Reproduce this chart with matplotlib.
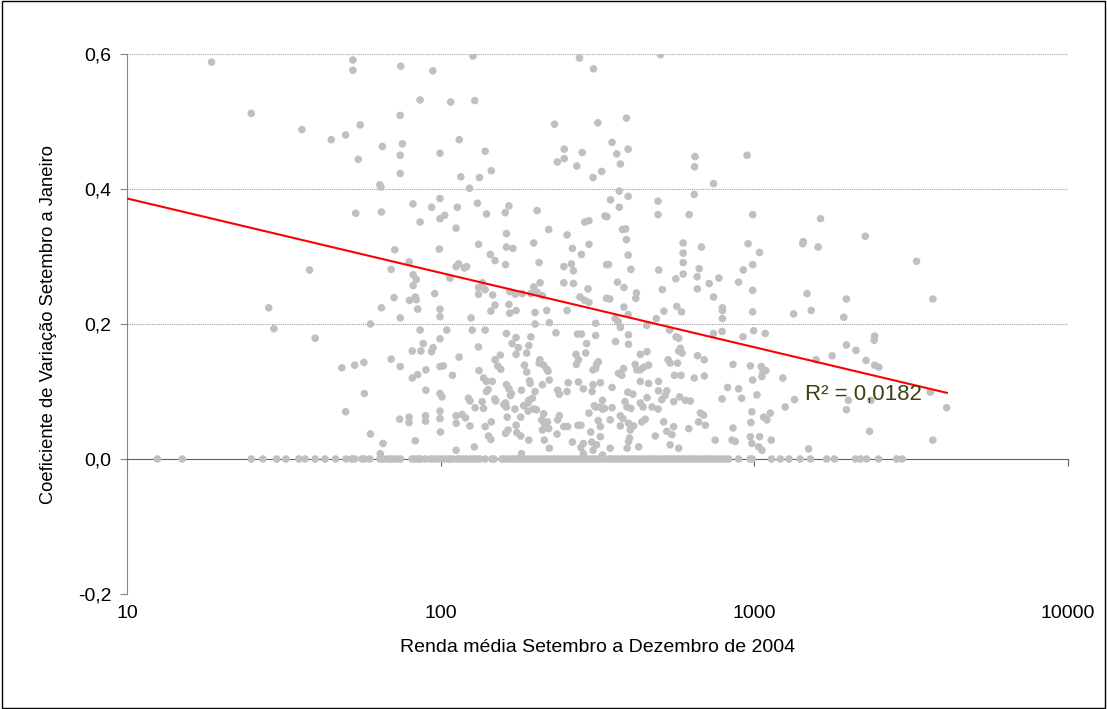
import numpy as np
import matplotlib
matplotlib.use("Agg")
import matplotlib.pyplot as plt
from matplotlib.ticker import FixedLocator, NullLocator
from matplotlib.patches import Rectangle

plt.rcParams['font.family'] = ['Liberation Sans', 'DejaVu Sans']

# renda media (x) e coeficiente de variacao (y), pontos com CV > 0
renda = [
    18.6, 52.5, 52.5, 24.9, 36.1, 44.8, 49.8, 55.4, 54.6,
    74.6, 94.4, 126.8, 277, 307, 86, 107.6, 128.5, 74.3, 230.7, 317, 65.2, 75.5, 74.3, 99.5,
    114.6, 138.6, 247.7, 282.6, 247.7, 235.5, 271.7, 74.3, 116, 133, 145, 306, 326, 64,
    502, 391, 352, 364, 396, 374, 647, 645, 948, 741,
    53.6, 38.2, 28.3, 29.4,
    64.5, 123.6, 64.7, 81.6, 93.6, 99.5, 99.5, 103, 86, 113, 112, 131, 140, 160.6, 165, 203,
    221, 253, 288, 297, 334, 162, 162, 170, 132, 99, 71.4, 144, 149, 161, 198, 206, 263, 297,
    281, 247, 261, 265, 338, 79.3, 69.5, 81.7, 83.6, 81.7, 112, 114, 119, 121, 107, 136, 132,
    138.6, 132, 146.5, 149, 144.6, 165, 174, 166, 173, 182, 198, 207.5, 194, 203, 211, 200,
    218, 247, 265, 253, 295, 278, 288, 297, 338, 95.7, 83, 83.6, 79.5, 71, 84.5, 99.5, 99.5,
    64.7, 74.3, 59.7, 125, 166, 200, 222, 312,
    371, 348, 396, 371, 339, 493, 493, 643, 620, 988, 1626, 380, 389, 391, 396, 404, 343,
    593, 593, 593, 593, 678, 496, 562, 667, 657, 658, 718, 771, 741, 955, 1039, 988, 922, 891,
    988, 988, 791, 791, 791, 1432, 1427, 1597, 1472, 1519, 1334, 1928, 1966, 366, 384, 421,
    419, 346, 509, 384, 396, 360, 368, 374, 515, 487, 566, 586, 454,
    2259, 3291, 3708,
    39.8, 48.4, 53.2, 56.9, 57.1, 49.8,
    86, 104.6, 126, 138.6, 162, 174, 194, 233, 273, 281, 312, 88, 99.5, 81.2, 86.5, 94.6, 93.5,
    132, 169, 177, 191, 188, 174, 292, 290, 270, 275, 271, 318, 314, 312, 306, 69.5, 74.3,
    81.2, 84.5, 89.7, 99.5, 102, 109, 114.5, 89.7, 99.5, 101,
    149, 155, 152, 155.5, 137, 140, 146, 141.7, 140, 132.5,
    185, 188, 193, 192, 207, 206, 213, 218, 220, 222, 211, 200, 196, 190, 181, 162, 165, 168,
    167, 161, 160.6, 236, 239, 253, 255, 275, 285, 306, 323, 304, 309, 312, 328, 333, 328,
    122.6, 124, 128.8, 135.6, 137, 148.7, 149.8, 159, 162, 172.5, 184, 198, 191, 202, 190,
    213, 210, 214, 221, 211, 219, 239, 236, 254, 247, 274, 280, 297, 318, 323,
    99.5, 99.5, 89.5, 89.5, 79.3, 79.3, 74, 99.8, 112, 117, 120, 112, 124, 138.6, 145, 163,
    174, 180, 164, 161, 175, 180, 142, 144.6, 191, 214, 235, 263, 285, 303, 301, 323, 323,
    59.7, 65.5, 64.2, 83, 112, 128, 181, 222, 280, 285, 306, 314, 328,
    361, 397, 397, 433, 455, 417, 422, 433, 444, 460, 383, 378, 369, 433, 460, 495, 352, 395,
    410, 495, 526, 520, 507, 455, 433, 442, 387, 393, 404, 352, 347, 374, 381, 397, 412, 374,
    438, 449, 472, 493, 402, 400, 397, 428, 347, 393, 483, 514, 553, 526, 546, 539, 574, 618,
    664, 698, 689, 673, 750, 603, 625, 578, 553, 556, 584, 643, 693, 659, 692, 531, 539, 574,
    581, 588, 569, 574, 563, 537, 741, 789, 855, 822, 789, 891, 911, 971, 1052, 1065, 1088,
    1057, 988, 1019, 982, 975, 1071, 1124, 1097, 1132, 1039, 971, 982, 1032, 1057, 849, 855,
    869, 1233, 1254, 1343, 920, 995, 1083, 1489, 1966, 1770, 1574, 1966,
    2109, 2411, 2418, 2270, 2418, 2495, 3640, 4104, 2330, 3708, 1995, 2355,
]
cv = [
    .588, .591, .576, .512, .488, .473, .48, .495, .444,
    .582, .575, .597, .594, .578, .532, .529, .531, .509, .496, .498, .463, .467, .45, .453,
    .473, .456, .459, .454, .445, .44, .434, .423, .418, .417, .427, .417, .426, .406,
    .599, .505, .469, .452, .459, .437, .448, .433, .45, .408,
    .364, .28, .224, .193,
    .403, .401, .366, .378, .373, .386, .356, .361, .351, .373, .342, .379, .363, .365, .375, .368,
    .34, .332, .351, .353, .36, .334, .314, .312, .318, .311, .31, .303, .294, .288, .32, .291, .312, .318,
    .303, .285, .289, .279, .288, .292, .281, .273, .266, .257, .285, .289, .283, .285, .268, .261, .254,
    .251, .244, .243, .228, .219, .229, .22, .248, .244, .245, .255, .261, .245, .247, .242, .217,
    .22, .261, .26, .22, .252, .24, .235, .232, .238, .245, .24, .236, .235, .239, .222, .222, .211,
    .224, .209, .2, .209, .216, .2, .202, .201,
    .397, .384, .389, .373, .359, .382, .362, .392, .362, .362, .356, .34, .341, .325, .302, .281, .288,
    .32, .305, .291, .274, .314, .28, .267, .282, .27, .252, .26, .268, .24, .319, .306, .288, .28, .262,
    .25, .218, .224, .22, .208, .322, .319, .314, .245, .22, .215, .21, .237, .262, .254, .246,
    .238, .237, .251, .225, .214, .208, .203, .195, .219, .208, .226, .218, .198,
    .33, .293, .237,
    .179, .135, .139, .143, .097, .07,
    .191, .191, .191, .191, .186, .18, .181, .187, .185, .185, .183, .171, .178, .16, .16, .165, .159,
    .166, .171, .165, .168, .157, .155, .171, .157, .155, .147, .14, .144, .14, .134, .132, .148, .137,
    .12, .125, .132, .137, .138, .124, .151, .102, .097, .092,
    .147, .154, .138, .133, .12, .115, .115, .103, .1, .131,
    .139, .129, .112, .116, .147, .142, .139, .133, .13, .117, .11, .1, .09, .083, .102, .11, .104, .097,
    .094, .083, .079, .102, .096, .1, .113, .114, .104, .11, .113, .1, .079, .077, .087, .075, .074,
    .09, .086, .076, .085, .075, .089, .086, .081, .077, .074, .079, .074, .087, .073, .071,
    .067, .058, .053, .045, .043, .055, .064, .058, .048, .048, .05, .05, .068, .057, .077,
    .071, .06, .064, .056, .062, .054, .059, .04, .053, .066, .061, .064, .049, .048, .055, .062,
    .05, .062, .043, .038, .039, .034, .034, .029, .028, .028, .037, .025, .023, .025, .04, .048, .033,
    .037, .023, .008, .027, .013, .018, .008, .016, .017, .008, .013, .021, .006,
    .174, .184, .17, .155, .159, .14, .132, .132, .136, .139, .134, .124, .127, .115, .112, .115, .106, .099,
    .096, .101, .101, .094, .088, .091, .083, .077, .085, .077, .075, .076, .058, .064, .06, .053, .049, .049,
    .055, .059, .077, .074, .043, .031, .026, .018, .016, .016, .034, .055, .048, .041, .036, .021, .016, .045,
    .055, .05, .065, .068, .028, .087, .086, .092, .085, .124, .124, .12, .123, .153, .147, .147, .142, .16,
    .164, .157, .142, .179, .181, .191, .186, .189, .14, .106, .089, .104, .09, .138, .137, .129, .131,
    .122, .117, .095, .07, .054, .062, .068, .058, .028, .033, .033, .023, .018, .013, .028, .046,
    .026, .12, .077, .088, .181, .19, .186, .015, .169, .153, .147, .073,
    .161, .176, .182, .146, .139, .136, .099, .076, .041, .028, .087, .087,
]

# municipios com CV = 0 (renda media)
renda_cv_zero = [
    12.5, 15, 24.9, 27.1, 30, 32.1, 35.3, 37, 39.8, 42.8, 46.2, 49.9, 52.1, 53.2, 56.1, 57.1,
    59.5, 64, 65.5, 67.5, 69, 70.5, 72.5, 74.5, 81, 83, 85, 86, 89, 92.5, 94.5, 97.5, 100, 102,
    105, 107, 109.5, 113, 115, 118, 121, 124, 127, 130, 133, 138.5, 145.5, 148, 157, 160, 164,
    169, 172, 176, 181, 185, 190, 195, 200, 204, 210, 215, 220, 226, 231, 237, 243, 249, 255,
    262, 268, 275, 282, 289, 295, 303, 310, 318, 327, 335, 345, 352, 360, 368, 378, 387, 397,
    407, 417, 427, 438, 449, 460, 472, 483, 495, 507, 520, 532, 546, 559, 573, 587, 602, 617,
    632, 648, 664, 680, 697, 714, 732, 750, 769, 788, 808, 828, 890, 970, 985, 1135, 1210, 1290,
    1400, 1510, 1700, 1800, 2100, 2180, 2280, 2490, 2840, 2960,
]

# linha de tendencia logaritmica (Excel)
trend_x = [10, 4110]
trend_y = [0.386, 0.098]
r2_label = "R² = 0,0182"

x_ticks = [10, 100, 1000, 10000]
x_ticklabels = ["10", "100", "1000", "10000"]
y_ticks = [-0.2, 0.0, 0.2, 0.4, 0.6]
y_ticklabels = ["-0,2", "0,0", "0,2", "0,4", "0,6"]
y_grid = [0.2, 0.4, 0.6]

fig = plt.figure(figsize=(11.07, 7.09), dpi=100)
ax = fig.add_axes([127 / 1107, 1 - 594 / 709, (1068 - 127) / 1107, (594 - 54) / 709])

for y in y_grid:
    ax.axhline(y, color='#a0a0a0', lw=0.8, ls=(0, (1, 1)), zorder=1)

ax.scatter(renda_cv_zero, np.zeros(len(renda_cv_zero)), s=30, color='#c0c0c0',
           edgecolors='none', zorder=3)
ax.scatter(renda, cv, s=30, color='#c0c0c0', edgecolors='none', zorder=3)
ax.plot(trend_x, trend_y, color='#ff0000', lw=1.5, zorder=4)

ax.text(1450, 0.095, r2_label, fontsize=16, color='#3f3f14', va='center', ha='left', zorder=5)

ax.set_xscale('log')
ax.set_xlim(10, 10000)
ax.set_ylim(-0.2, 0.6)

ax.xaxis.set_major_locator(FixedLocator(x_ticks))
ax.xaxis.set_minor_locator(NullLocator())
ax.set_xticklabels(x_ticklabels)
ax.set_yticks(y_ticks)
ax.set_yticklabels(y_ticklabels)

ax.spines['top'].set_visible(False)
ax.spines['right'].set_visible(False)
ax.spines['left'].set_color('#868686')
ax.spines['bottom'].set_position(('data', 0))
ax.spines['bottom'].set_color('#606060')
ax.tick_params(axis='x', direction='out', length=5, color='#606060', labelsize=14, pad=100)
ax.tick_params(axis='y', direction='out', length=5, color='#868686', labelsize=14, pad=6)

ax.set_xlabel('Renda média Setembro a Dezembro de 2004', fontsize=14, labelpad=12)
ax.set_ylabel('Coeficiente de Variação Setembro a Janeiro', fontsize=13.2, labelpad=15)

fig.patches.append(Rectangle((0.002, 0.002), 0.996, 0.996, transform=fig.transFigure,
                             fill=False, edgecolor='black', lw=1))

fig.savefig('out.png', dpi=100)
